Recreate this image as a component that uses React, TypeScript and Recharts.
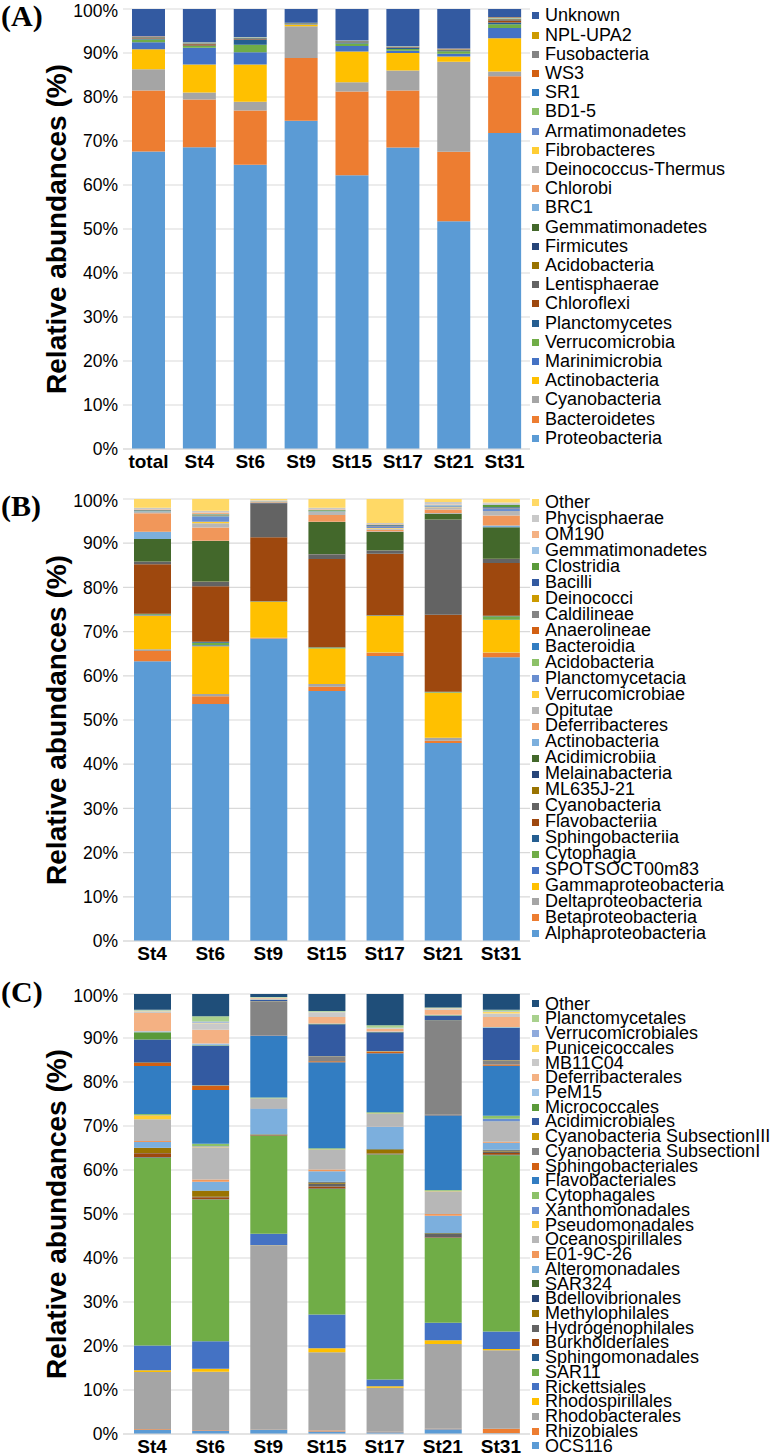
import { BarChart, Bar, XAxis, YAxis, CartesianGrid } from "recharts";

// 100% stacked columns, three panels (phylum / class / order)

const percentTicks = [0, 0.1, 0.2, 0.3, 0.4, 0.5, 0.6, 0.7, 0.8, 0.9, 1];

// Excel 2013 series colour sequence
const seriesColors = [
  "#5B9BD5", "#ED7D31", "#A5A5A5", "#FFC000", "#4472C4", "#70AD47",
  "#255E91", "#9E480E", "#636363", "#997300", "#264478", "#43682B",
  "#7CAFDD", "#F1975A", "#B7B7B7", "#FFCD33", "#698ED0", "#8CC168",
  "#327DC2", "#D26012", "#848484", "#CC9A00", "#335AA1", "#5A9A3A",
  "#9DC3E6", "#F4B183", "#C9C9C9", "#FFD966", "#8FAADC", "#A9D18E",
  "#1F4E79",
];

// (A) phylum
const phylumStations = ["total", "St4", "St6", "St9", "St15", "St17", "St21", "St31"];
const phylumNames = [
  "Proteobacteria", "Bacteroidetes", "Cyanobacteria", "Actinobacteria", "Marinimicrobia",
  "Verrucomicrobia", "Planctomycetes", "Chloroflexi", "Lentisphaerae", "Acidobacteria",
  "Firmicutes", "Gemmatimonadetes", "BRC1", "Chlorobi", "Deinococcus-Thermus",
  "Fibrobacteres", "Armatimonadetes", "BD1-5", "SR1", "WS3", "Fusobacteria", "NPL-UPA2", "Unknown",
];
const phylumValues = [
  [67.8, 68.9, 64.8, 74.6, 62.3, 68.6, 51.9, 72.1],
  [13.9, 10.9, 12.4, 14.3, 19.1, 13.0, 15.9, 12.9],
  [4.8, 1.6, 2.0, 7.2, 2.1, 4.5, 20.5, 1.1],
  [4.6, 6.4, 8.5, 0.4, 7.0, 4.0, 1.2, 7.6],
  [1.6, 3.8, 2.8, 0.1, 1.2, 0.5, 0.6, 2.3],
  [0.6, 0.4, 1.7, 0.1, 0.6, 0.4, 0.6, 0.9],
  [0.2, 0.1, 1.2, 0.05, 0.2, 0.3, 0.2, 0.4],
  [0.1, 0.3, 0.1, 0.02, 0.1, 0.1, 0.1, 0.4],
  [0.1, 0.1, 0.1, 0.02, 0.1, 0.05, 0.05, 0.2],
  [0.05, 0.05, 0.05, 0.01, 0.05, 0.03, 0.03, 0.1],
  [0.05, 0.05, 0.05, 0.01, 0.05, 0.03, 0.03, 0.1],
  [0.05, 0.05, 0.05, 0.01, 0.05, 0.03, 0.03, 0.05],
  [0.03, 0.03, 0.03, 0.01, 0.03, 0.02, 0.02, 0.03],
  [0.03, 0.03, 0.03, 0.01, 0.03, 0.02, 0.02, 0.03],
  [0.02, 0.02, 0.02, 0.01, 0.02, 0.02, 0.02, 0.02],
  [0.02, 0.02, 0.02, 0.01, 0.02, 0.02, 0.02, 0.02],
  [0.02, 0.02, 0.02, 0.01, 0.02, 0.02, 0.02, 0.02],
  [0.02, 0.02, 0.02, 0.01, 0.02, 0.02, 0.02, 0.02],
  [0.02, 0.02, 0.02, 0.01, 0.02, 0.02, 0.02, 0.03],
  [0.02, 0.02, 0.02, 0.01, 0.02, 0.02, 0.02, 0.1],
  [0.01, 0.01, 0.01, 0.01, 0.01, 0.01, 0.01, 0.02],
  [0.01, 0.01, 0.01, 0.01, 0.01, 0.01, 0.01, 0.02],
  [6.2, 7.6, 6.4, 3.1, 7.1, 8.4, 9.0, 1.9],
];

// (B) class
const classStations = ["St4", "St6", "St9", "St15", "St17", "St21", "St31"];
const classNames = [
  "Alphaproteobacteria", "Betaproteobacteria", "Deltaproteobacteria", "Gammaproteobacteria",
  "SPOTSOCT00m83", "Cytophagia", "Sphingobacteriia", "Flavobacteriia", "Cyanobacteria",
  "ML635J-21", "Melainabacteria", "Acidimicrobiia", "Actinobacteria", "Deferribacteres",
  "Opitutae", "Verrucomicrobiae", "Planctomycetacia", "Acidobacteria", "Bacteroidia",
  "Anaerolineae", "Caldilineae", "Deinococci", "Bacilli", "Clostridia", "Gemmatimonadetes",
  "OM190", "Phycisphaerae", "Other",
];
const classValues = [
  [63.7, 54.1, 68.8, 57.1, 65.1, 45.3, 65.1],
  [2.3, 1.8, 0.1, 1.0, 0.7, 0.5, 1.0],
  [0.4, 0.5, 0.05, 0.6, 0.1, 0.7, 0.1],
  [7.7, 10.9, 8.2, 8.1, 8.3, 10.3, 7.4],
  [0.1, 0.2, 0.02, 0.05, 0.05, 0.05, 0.1],
  [0.2, 0.6, 0.05, 0.2, 0.1, 0.1, 0.8],
  [0.1, 0.2, 0.02, 0.05, 0.05, 0.05, 0.1],
  [11.3, 12.7, 14.6, 20.2, 14.0, 17.6, 12.1],
  [0.5, 1.0, 7.7, 1.0, 0.7, 21.7, 0.9],
  [0.05, 0.05, 0.02, 0.05, 0.05, 0.05, 0.05],
  [0.05, 0.05, 0.02, 0.05, 0.05, 0.05, 0.05],
  [5.1, 9.2, 0.1, 7.3, 4.2, 1.3, 7.2],
  [1.7, 0.1, 0.05, 0.1, 0.1, 0.1, 0.4],
  [4.2, 3.0, 0.1, 1.5, 0.4, 0.9, 2.3],
  [0.3, 1.0, 0.05, 0.7, 0.3, 0.5, 1.0],
  [0.05, 0.3, 0.02, 0.05, 0.1, 0.05, 0.05],
  [0.1, 1.3, 0.02, 0.1, 0.3, 0.1, 0.5],
  [0.02, 0.02, 0.01, 0.02, 0.02, 0.02, 0.02],
  [0.05, 0.05, 0.01, 0.05, 0.05, 0.05, 0.05],
  [0.02, 0.02, 0.01, 0.02, 0.02, 0.02, 0.02],
  [0.02, 0.02, 0.01, 0.02, 0.02, 0.02, 0.02],
  [0.02, 0.1, 0.01, 0.02, 0.02, 0.02, 0.02],
  [0.1, 0.1, 0.02, 0.1, 0.2, 0.05, 0.2],
  [0.05, 0.1, 0.02, 0.1, 0.1, 0.05, 0.5],
  [0.1, 0.1, 0.05, 0.1, 0.1, 0.2, 0.2],
  [0.1, 0.3, 0.05, 0.1, 0.1, 0.1, 0.1],
  [0.3, 0.4, 0.1, 0.3, 0.2, 0.5, 0.3],
  [2.0, 2.7, 0.3, 2.0, 5.5, 0.7, 0.8],
];

// (C) order
const orderStations = ["St4", "St6", "St9", "St15", "St17", "St21", "St31"];
const orderNames = [
  "OCS116", "Rhizobiales", "Rhodobacterales", "Rhodospirillales", "Rickettsiales", "SAR11",
  "Sphingomonadales", "Burkholderiales", "Hydrogenophilales", "Methylophilales",
  "Bdellovibrionales", "SAR324", "Alteromonadales", "E01-9C-26", "Oceanospirillales",
  "Pseudomonadales", "Xanthomonadales", "Cytophagales", "Flavobacteriales",
  "Sphingobacteriales", "Cyanobacteria SubsectionI", "Cyanobacteria SubsectionIII",
  "Acidimicrobiales", "Micrococcales", "PeM15", "Deferribacterales", "MB11C04",
  "Puniceicoccales", "Verrucomicrobiales", "Planctomycetales", "Other",
];
const orderValues = [
  [0.9, 0.8, 0.9, 0.6, 0.4, 1.1, 0.2],
  [0.2, 0.1, 0.05, 0.2, 0.1, 0.1, 1.0],
  [13.1, 13.4, 42.3, 18.1, 10.2, 19.5, 18.1],
  [0.4, 0.7, 0.1, 0.9, 0.3, 0.9, 0.3],
  [5.7, 6.3, 2.6, 7.8, 1.6, 4.0, 4.0],
  [43.0, 32.6, 22.5, 29.0, 51.9, 19.5, 40.6],
  [0.1, 0.05, 0.05, 0.1, 0.05, 0.05, 0.1],
  [0.9, 0.5, 0.1, 0.5, 0.1, 0.1, 0.4],
  [0.1, 0.1, 0.1, 0.6, 0.1, 0.8, 0.4],
  [1.1, 1.3, 0.05, 0.3, 0.9, 0.1, 0.2],
  [0.05, 0.05, 0.02, 0.1, 0.05, 0.05, 0.1],
  [0.05, 0.1, 0.02, 0.1, 0.05, 0.05, 0.1],
  [1.3, 2.0, 6.0, 2.4, 5.2, 4.0, 1.6],
  [0.2, 0.5, 0.05, 0.4, 0.1, 0.4, 0.2],
  [5.0, 7.4, 2.1, 4.5, 2.8, 5.1, 4.6],
  [0.9, 0.2, 0.05, 0.1, 0.1, 0.1, 0.1],
  [0.1, 0.1, 0.05, 0.1, 0.1, 0.1, 0.6],
  [0.2, 0.5, 0.2, 0.2, 0.2, 0.2, 0.7],
  [11.0, 12.4, 14.2, 19.9, 13.6, 17.2, 11.5],
  [0.7, 0.9, 0.1, 0.2, 0.4, 0.1, 0.3],
  [0.2, 0.1, 7.7, 1.1, 0.1, 21.6, 1.0],
  [0.05, 0.05, 0.1, 0.05, 0.05, 0.1, 0.05],
  [5.1, 9.1, 0.3, 7.4, 4.3, 1.1, 7.4],
  [1.7, 0.1, 0.05, 0.1, 0.1, 0.1, 0.1],
  [0.2, 0.4, 0.1, 0.1, 0.1, 0.1, 0.1],
  [4.2, 3.2, 0.2, 1.5, 0.6, 1.2, 2.3],
  [0.4, 1.5, 0.1, 1.0, 0.1, 0.3, 0.8],
  [0.05, 0.1, 0.05, 0.1, 0.05, 0.05, 0.4],
  [0.1, 0.3, 0.05, 0.1, 0.1, 0.05, 0.1],
  [0.2, 1.2, 0.1, 0.2, 0.6, 0.1, 0.4],
  [3.6, 5.1, 0.7, 3.9, 7.2, 3.1, 3.6],
];

const SANS = '"Liberation Sans", Arial, sans-serif';
const SERIF = '"Liberation Serif", "Times New Roman", serif';

const YTitle = (props: any) => {
  const vb = props.viewBox || {};
  const cx = 56;
  const cy = (vb.y ?? 0) + (vb.height ?? 0) / 2;
  return (
    <text
      x={cx}
      y={cy}
      transform={`rotate(-90 ${cx} ${cy})`}
      textAnchor="middle"
      dominantBaseline="central"
      fontFamily={SANS}
      fontWeight="bold"
      fontSize={28}
      fill="#000"
    >
      Relative abundances (%)
    </text>
  );
};

interface PanelProps {
  stations: string[];
  names: string[];
  values: number[][];
  top: number;
  height: number;
  xAxisHeight: number;
  bottom: number;
  barSize: number;
  legendFirst: number;
  legendStep: number;
}

function Panel({ stations, names, values, top, height, xAxisHeight, bottom, barSize, legendFirst, legendStep }: PanelProps) {
  const rows = stations.map((s, i) => {
    const row: Record<string, string | number> = { station: s };
    names.forEach((n, k) => {
      row[n] = values[k][i];
    });
    return row;
  });
  const legendItems = names.map((n, k) => ({ name: n, color: seriesColors[k] })).reverse();

  return (
    <>
      <div style={{ position: "absolute", left: 0, top, width: 777, height }}>
        <BarChart
          width={777}
          height={height}
          data={rows}
          stackOffset="expand"
          barSize={barSize}
          margin={{ top: 9, right: 247, bottom, left: 0 }}
        >
          <CartesianGrid horizontal vertical={false} stroke="#d9d9d9" strokeWidth={1.2} />
          <XAxis
            dataKey="station"
            height={xAxisHeight}
            axisLine={{ stroke: "#d9d9d9", strokeWidth: 1.2 }}
            tickLine={false}
            tickMargin={0}
            interval={0}
            tick={{ fill: "#000", fontSize: 19, fontWeight: "bold", fontFamily: SANS }}
          />
          <YAxis
            width={123}
            domain={[0, 1]}
            ticks={percentTicks}
            tickFormatter={(v: number) => `${Math.round(v * 100)}%`}
            axisLine={false}
            tickLine={false}
            tickSize={5}
            tickMargin={0}
            tick={{ fill: "#000", fontSize: 17.5, fontFamily: SANS }}
            label={<YTitle />}
          />
          {names.map((n, k) => (
            <Bar key={n} dataKey={n} stackId="s" fill={seriesColors[k]} isAnimationActive={false} />
          ))}
        </BarChart>
      </div>
      {legendItems.map((item, j) => (
        <div
          key={item.name}
          style={{
            position: "absolute",
            left: 532,
            top: legendFirst + j * legendStep - legendStep / 2,
            height: legendStep,
            display: "flex",
            alignItems: "center",
            whiteSpace: "nowrap",
            fontFamily: SANS,
            fontSize: 18,
            lineHeight: `${legendStep}px`,
            color: "#000",
          }}
        >
          <span style={{ display: "inline-block", width: 7, height: 7, background: item.color, marginRight: 6 }} />
          {item.name}
        </div>
      ))}
    </>
  );
}

export default function App() {
  return (
    <div style={{ position: "absolute", left: 0, top: 0, width: 777, height: 1456, background: "#fff", overflow: "hidden" }}>
      <Panel
        stations={phylumStations}
        names={phylumNames}
        values={phylumValues}
        top={0}
        height={480}
        xAxisHeight={30}
        bottom={1}
        barSize={33}
        legendFirst={16}
        legendStep={19.2}
      />
      <Panel
        stations={classStations}
        names={classNames}
        values={classValues}
        top={490}
        height={490}
        xAxisHeight={30}
        bottom={9}
        barSize={37}
        legendFirst={503}
        legendStep={15.96}
      />
      <Panel
        stations={orderStations}
        names={orderNames}
        values={orderValues}
        top={985}
        height={471}
        xAxisHeight={22}
        bottom={0}
        barSize={37}
        legendFirst={1004}
        legendStep={14.73}
      />
      <svg width={777} height={1456} style={{ position: "absolute", left: 0, top: 0, pointerEvents: "none" }}>
        <text x={1} y={26} fontFamily={SERIF} fontWeight="bold" fontSize={30} fill="#000">(A)</text>
        <text x={1} y={516} fontFamily={SERIF} fontWeight="bold" fontSize={30} fill="#000">(B)</text>
        <text x={1} y={1002} fontFamily={SERIF} fontWeight="bold" fontSize={30} fill="#000">(C)</text>
      </svg>
    </div>
  );
}
